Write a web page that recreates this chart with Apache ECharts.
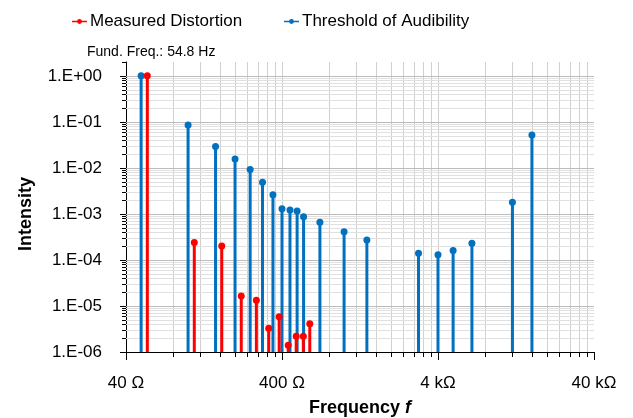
<!DOCTYPE html>
<html><head><meta charset="utf-8">
<script src="https://cdn.jsdelivr.net/npm/echarts@6/dist/echarts.min.js"></script>
<style>html,body{margin:0;padding:0;background:#fff}#c{width:633px;height:418px}</style>
</head><body><div id="c"></div>
<script>
// ---- data ----
const thresholdFreq = [50, 100, 150, 200, 250, 300, 350, 400, 450, 500, 550, 700, 1000, 1400, 3000, 4000, 5000, 6600, 12000, 16000];
const thresholdVal  = [1.0, 0.086, 0.029, 0.0157, 0.0092, 0.0049, 0.0026, 0.0013, 0.00122, 0.00116, 0.00087, 0.00066, 0.00041, 0.00027, 0.00014, 0.00013, 0.00016, 0.00023, 0.0018, 0.052];
const distortionFreq = [54.8, 109.6, 164.4, 219.2, 274, 328.8, 383.6, 438.4, 493.2, 548, 602.8];
const distortionVal  = [1.0, 2.4e-4, 2.0e-4, 1.65e-5, 1.33e-5, 3.3e-6, 5.8e-6, 1.4e-6, 2.2e-6, 2.2e-6, 4.1e-6];
const seriesNames = ['Measured Distortion', 'Threshold of Audibility'];
const annotation = 'Fund. Freq.: 54.8 Hz';

// ---- tick values / labels ----
const xTickValues = [40, 400, 4000, 40000];
const xTickLabels = ['40 Ω', '400 Ω', '4 kΩ', '40 kΩ'];
const xMinorTicks = [80, 120, 160, 200, 240, 280, 320, 360,
                     800, 1200, 1600, 2000, 2400, 2800, 3200, 3600,
                     8000, 12000, 16000, 20000, 24000, 28000, 32000, 36000];
const yTickValues = [1e-6, 1e-5, 1e-4, 1e-3, 1e-2, 1e-1, 1];
const yTickLabels = ['1.E-06', '1.E-05', '1.E-04', '1.E-03', '1.E-02', '1.E-01', '1.E+00'];
const yMinorTicks = [2e-6,3e-6,4e-6,5e-6,6e-6,7e-6,8e-6,9e-6,
                     2e-5,3e-5,4e-5,5e-5,6e-5,7e-5,8e-5,9e-5,
                     2e-4,3e-4,4e-4,5e-4,6e-4,7e-4,8e-4,9e-4,
                     2e-3,3e-3,4e-3,5e-3,6e-3,7e-3,8e-3,9e-3,
                     2e-2,3e-2,4e-2,5e-2,6e-2,7e-2,8e-2,9e-2,
                     0.2,0.3,0.4,0.5,0.6,0.7,0.8,0.9];
const X_MIN = 40, X_MAX = 40000, Y_MIN = 1e-6, Y_MAX = 2;

const RED = '#ff0000', BLUE = '#0070c0';
const FONT = '"Liberation Sans", Arial, sans-serif';

function near(a, b) { return Math.abs(Math.log10(a) - Math.log10(b)) < 1e-6; }
function px(v) { return Math.round(v) + 0.5; }

function vGrid(values, color) {
  return { type: 'custom', silent: true, z: 1, clip: false, encode: {x: 0, y: 1},
    data: values.map(v => [v, Y_MIN]),
    renderItem(p, api) {
      const a = api.coord([api.value(0), Y_MIN]), b = api.coord([api.value(0), Y_MAX]);
      const x = px(a[0]);
      return { type: 'line', shape: {x1: x, y1: a[1], x2: x, y2: b[1]}, style: {stroke: color, lineWidth: 1} };
    } };
}
function hGrid(values, color) {
  return { type: 'custom', silent: true, z: 1, clip: false, encode: {x: 0, y: 1},
    data: values.map(v => [X_MIN, v]),
    renderItem(p, api) {
      const a = api.coord([X_MIN, api.value(1)]), b = api.coord([X_MAX, api.value(1)]);
      const y = px(a[1]);
      return { type: 'line', shape: {x1: a[0], y1: y, x2: b[0], y2: y}, style: {stroke: color, lineWidth: 1} };
    } };
}
function xTicks(values, len) {
  return { type: 'custom', silent: true, z: 5, clip: false, encode: {x: 0, y: 1},
    data: values.map(v => [v, Y_MIN]),
    renderItem(p, api) {
      const a = api.coord([api.value(0), Y_MIN]);
      const x = px(a[0]);
      return { type: 'line', shape: {x1: x, y1: a[1], x2: x, y2: a[1] + len}, style: {stroke: '#000', lineWidth: 1} };
    } };
}
function yTicks(values, len) {
  return { type: 'custom', silent: true, z: 5, clip: false, encode: {x: 0, y: 1},
    data: values.map(v => [X_MIN, v]),
    renderItem(p, api) {
      const a = api.coord([X_MIN, api.value(1)]);
      const y = px(a[1]);
      return { type: 'line', shape: {x1: a[0], y1: y, x2: a[0] - len, y2: y}, style: {stroke: '#000', lineWidth: 1} };
    } };
}
function stems(name, xs, ys, color, z) {
  return { type: 'custom', name, z, clip: false, encode: {x: 0, y: 1}, itemStyle: {color},
    data: xs.map((x, i) => [x, ys[i]]),
    renderItem(p, api) {
      const t = api.coord([api.value(0), api.value(1)]), b = api.coord([api.value(0), Y_MIN]);
      return { type: 'group', children: [
        { type: 'line', shape: {x1: t[0], y1: t[1], x2: b[0], y2: b[1]}, style: {stroke: color, lineWidth: 3} },
        { type: 'circle', shape: {cx: t[0], cy: t[1], r: 3.5}, style: {fill: color} }
      ] };
    } };
}

const ICON = 'path://M0,3.3H16V4.7H0Z M10.6,4A2.6,2.6,0,1,1,5.4,4A2.6,2.6,0,1,1,10.6,4Z';
const legendBase = { top: 13, padding: 0, itemWidth: 15, itemHeight: 8, itemGap: 10,
  textStyle: {fontFamily: FONT, fontSize: 17, color: '#000', padding: [0, 0, 0, -2]} };

const chart = echarts.init(document.getElementById('c'), null, {renderer: 'canvas'});
chart.setOption({
  animation: false,
  backgroundColor: '#fff',
  grid: { left: 126, right: 39, top: 62, bottom: 66 },
  legend: [
    Object.assign({}, legendBase, { left: 72, data: [{name: seriesNames[0], icon: ICON}] }),
    Object.assign({}, legendBase, { left: 284, data: [{name: seriesNames[1], icon: ICON}] })
  ],
  xAxis: {
    type: 'log', logBase: 10, min: X_MIN, max: X_MAX,
    axisLine: {lineStyle: {color: '#000', width: 1}},
    axisTick: {show: false}, splitLine: {show: false}, minorTick: {show: false},
    axisLabel: { customValues: xTickValues, margin: 23, fontFamily: FONT, fontSize: 17, color: '#000',
      formatter: v => { const i = xTickValues.findIndex(t => near(t, v)); return i >= 0 ? xTickLabels[i] : ''; } }
  },
  yAxis: {
    type: 'log', logBase: 10, min: Y_MIN, max: Y_MAX,
    axisLine: {lineStyle: {color: '#000', width: 1}},
    axisTick: {show: false}, splitLine: {show: false}, minorTick: {show: false},
    axisLabel: { customValues: yTickValues, margin: 24, fontFamily: FONT, fontSize: 17, color: '#000',
      formatter: v => { const i = yTickValues.findIndex(t => near(t, v)); return i >= 0 ? yTickLabels[i] : ''; } }
  },
  graphic: [
    { type: 'text', left: 87, top: 45, style: { text: annotation, font: '14px ' + FONT, fill: '#000' } },
    { type: 'text', x: 26, y: 214, rotation: Math.PI / 2,
      style: { text: 'Intensity', font: 'bold 18px ' + FONT, fill: '#000', align: 'center', verticalAlign: 'middle' } },
    { type: 'text', x: 360, y: 408,
      style: { text: '{a|Frequency }{b|f}', align: 'center', verticalAlign: 'middle', fill: '#000',
        rich: { a: {font: 'bold 18px ' + FONT, fill: '#000'}, b: {font: 'italic bold 18px ' + FONT, fill: '#000'} } } }
  ],
  series: [
    vGrid(xMinorTicks.concat([400, 4000]), '#d0d0d0'),
    hGrid(yMinorTicks, '#e0e0e0'),
    hGrid(yTickValues.slice(1), '#bcbcbc'),
    xTicks(xMinorTicks, 5),
    xTicks(xTickValues, 8),
    yTicks(yMinorTicks.concat([Y_MAX]), 4),
    yTicks(yTickValues, 6),
    stems(seriesNames[1], thresholdFreq, thresholdVal, BLUE, 10),
    stems(seriesNames[0], distortionFreq, distortionVal, RED, 11)
  ]
});
</script></body></html>
